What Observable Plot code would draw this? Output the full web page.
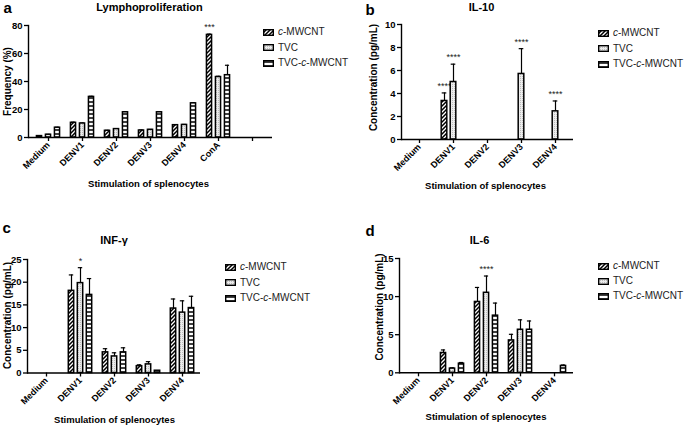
<!DOCTYPE html>
<html><head><meta charset="utf-8">
<script src="https://cdn.jsdelivr.net/npm/d3@7"></script>
<script src="https://cdn.jsdelivr.net/npm/@observablehq/plot@0.6"></script>
<style>
html,body{margin:0;padding:0;background:#fff;}
#root{position:relative;width:685px;height:425px;overflow:hidden;font-family:"Liberation Sans",Arial,sans-serif;}
.panel{position:absolute;}
.legend{position:absolute;font-size:10px;color:#222;font-family:"Liberation Sans",Arial,sans-serif;}
.row{position:absolute;left:0;white-space:nowrap;height:12px;line-height:12px;}
.row svg{position:absolute;left:0;top:2.5px;overflow:visible;}
.row span{position:absolute;left:15px;top:0;}
</style></head><body>
<svg width="0" height="0" style="position:absolute">
<defs>
<pattern id="hatch" patternUnits="userSpaceOnUse" width="4" height="4">
 <rect width="4" height="4" fill="white"/>
 <path d="M-1,1 l2,-2 M0,4 l4,-4 M3,5 l2,-2" stroke="black" stroke-width="1.5"/>
</pattern>
<pattern id="dots" patternUnits="userSpaceOnUse" width="2" height="2">
 <rect width="2" height="2" fill="#ececec"/>
 <rect x="0" y="0" width="1" height="1" fill="#bdbdbd"/>
</pattern>
<pattern id="hlines" patternUnits="userSpaceOnUse" width="4" height="4">
 <rect width="4" height="4" fill="white"/>
 <line x1="0" y1="2" x2="4" y2="2" stroke="black" stroke-width="1.5"/>
</pattern>
</defs></svg>
<div id="root"></div>
<script>
// ---------- data ----------
const seriesNames = ["c-MWCNT", "TVC", "TVC-c-MWCNT"];

// a: Lymphoproliferation (Frequency %)
const catsA = ["Medium", "DENV1", "DENV2", "DENV3", "DENV4", "ConA", ""];
const lymphoC   = [1.0, 10.5, 4.8, 5.0, 8.8, 73.3];
const lymphoT   = [2.0, 10.0, 6.0, 5.5, 9.0, 43.2];
const lymphoTC  = [7.0, 29.0, 18.0, 18.0, 24.4, 44.5];
const lymphoCe  = [0.2, 0.4, 0.3, 0.3, 0.3, 0.5];
const lymphoTe  = [0.2, 0.3, 0.3, 0.2, 0.3, 0.5];
const lymphoTCe = [0.3, 0.4, 0.4, 0.4, 0.4, 7.1];
const ticksA = [0, 20, 40, 60, 80];
const sigA = [{cat: "ConA", s: 0, label: "***"}];

// b: IL-10 (pg/mL)
const catsB = ["Medium", "DENV1", "DENV2", "DENV3", "DENV4"];
const il10C   = [0, 3.35, 0, 0, 0];
const il10T   = [0, 5.0, 0, 5.7, 2.45];
const il10TC  = [0, 0, 0, 0, 0];
const il10Ce  = [0, 0.7, 0, 0, 0];
const il10Te  = [0, 1.55, 0, 2.2, 0.9];
const il10TCe = [0, 0, 0, 0, 0];
const ticksB = [0, 2, 4, 6, 8, 10];
const sigB = [{cat: "DENV1", s: 0, label: "****"}, {cat: "DENV1", s: 1, label: "****"},
              {cat: "DENV3", s: 1, label: "****"}, {cat: "DENV4", s: 1, label: "****"}];

// c: INF-γ (pg/mL)
const catsC = ["Medium", "DENV1", "DENV2", "DENV3", "DENV4"];
const infC   = [0, 18.1, 4.55, 1.5, 14.2];
const infT   = [0, 19.8, 3.65, 1.9, 13.3];
const infTC  = [0, 17.2, 4.55, 0.5, 14.3];
const infCe  = [0, 3.5, 0.8, 0.3, 2.1];
const infTe  = [0, 3.4, 0.8, 0.6, 2.6];
const infTCe = [0, 3.6, 1.0, 0, 2.6];
const ticksC = [0, 5, 10, 15, 20, 25];
const sigC = [{cat: "DENV1", s: 1, label: "*"}];

// d: IL-6 (pg/mL)
const catsD = ["Medium", "DENV1", "DENV2", "DENV3", "DENV4"];
const il6C   = [0, 2.6, 9.3, 4.25, 0];
const il6T   = [0, 0.55, 10.5, 5.65, 0];
const il6TC  = [0, 1.2, 7.5, 5.65, 0.9];
const il6Ce  = [0, 0.4, 1.9, 0.8, 0];
const il6Te  = [0, 0.1, 2.2, 1.3, 0];
const il6TCe = [0, 0.15, 1.65, 1.15, 0.12];
const ticksD = [0, 5, 10, 15];
const sigD = [{cat: "DENV2", s: 1, label: "****"}];

// ---------- styling ----------
const fills = ["url(#hatch)", "url(#dots)", "url(#hlines)"];
const offsets = [-9, 0, 9];
const barW = 6;
const capW = 5;
const root = document.getElementById("root");

function makePanel(cfg) {
  const [fl, ft, fr, fb] = cfg.frame;
  const bw = (fr - fl) / cfg.cats.length;
  const fcx = (fl + fr) / 2, fcy = (ft + fb) / 2;
  const marks = [];
  cfg.values.forEach((vals, s) => {
    const rows = vals.map((v, i) => ({cat: cfg.cats[i], v, e: cfg.errors[s][i]}));
    const off = offsets[s];
    marks.push(Plot.ruleX(rows, {x: "cat", y1: "v", y2: d => d.v + d.e, dx: off, stroke: "black", strokeWidth: 1.2,
      filter: d => d.v > 0 && d.e > 0}));
    marks.push(Plot.tickY(rows, {x: "cat", y: d => d.v + d.e, insetLeft: bw / 2 + off - capW / 2, insetRight: bw / 2 - off - capW / 2,
      stroke: "black", strokeWidth: 1.2, filter: d => d.v > 0 && d.e > 0}));
    marks.push(Plot.barY(rows, {x: "cat", y: "v", fill: fills[s], stroke: "black", strokeWidth: 1.5,
      insetLeft: bw / 2 + off - barW / 2, insetRight: bw / 2 - off - barW / 2, filter: d => d.v > 0}));
    const sig = cfg.sig.filter(d => d.s === s).map(d => {
      const i = cfg.cats.indexOf(d.cat);
      return {cat: d.cat, top: vals[i] + cfg.errors[s][i], label: d.label};
    });
    marks.push(Plot.text(sig, {x: "cat", y: "top", text: "label", dx: off, dy: -7, fontSize: 9, lineAnchor: "middle", fill: "#222"}));
  });
  marks.push(
    Plot.ruleY([0], {stroke: "black", strokeWidth: 1.4}),
    Plot.frame({anchor: "left", stroke: "black", strokeWidth: 1.4}),
    Plot.axisY({ticks: cfg.ticks, tickSize: 4, tickPadding: 2, strokeWidth: 1.3, fontWeight: "bold", fontSize: 9.5, label: null}),
    Plot.axisX({tickRotate: -45, tickSize: 4, tickPadding: 2, strokeWidth: 1.3, fontWeight: "bold", fontSize: 9, label: null}),
    Plot.text([cfg.letter], {frameAnchor: "top-left", dx: cfg.letterPos[0] - fl, dy: cfg.letterPos[1] - ft,
      textAnchor: "start", lineAnchor: "bottom", fontSize: 15, fontWeight: "bold"}),
    Plot.text([cfg.title], {frameAnchor: "top", dx: cfg.titlePos[0] - fcx, dy: cfg.titlePos[1] - ft,
      textAnchor: "middle", lineAnchor: "bottom", fontSize: 11, fontWeight: "bold"}),
    Plot.text([cfg.xlabel], {frameAnchor: "bottom", dx: cfg.xlabelPos[0] - fcx, dy: cfg.xlabelPos[1] - fb,
      textAnchor: "middle", lineAnchor: "bottom", fontSize: 9.5, fontWeight: "bold"}),
    Plot.text([cfg.ylabel], {frameAnchor: "left", dx: cfg.ylabelPos[0] - fl, dy: cfg.ylabelPos[1] - fcy,
      rotate: -90, textAnchor: "middle", lineAnchor: "bottom", fontSize: 10, fontWeight: "bold"})
  );
  const chart = Plot.plot({
    width: cfg.width, height: cfg.height,
    marginLeft: fl - cfg.left, marginTop: ft - cfg.top,
    marginRight: cfg.left + cfg.width - fr, marginBottom: cfg.top + cfg.height - fb,
    x: {type: "band", domain: cfg.cats, padding: 0},
    y: {domain: [0, cfg.ticks[cfg.ticks.length - 1]]},
    style: {background: "transparent", color: "#000", fontFamily: "Liberation Sans, Arial, sans-serif", overflow: "visible"},
    marks
  });
  const wrap = document.createElement("div");
  wrap.className = "panel";
  wrap.style.left = cfg.left + "px";
  wrap.style.top = cfg.top + "px";
  wrap.appendChild(chart);
  root.appendChild(wrap);

  // legend
  const lg = document.createElement("div");
  lg.className = "legend";
  lg.style.left = cfg.legend[0] + "px";
  lg.style.top = (cfg.legend[1] - 6) + "px";
  seriesNames.forEach((name, s) => {
    const row = document.createElement("div");
    row.className = "row";
    row.style.top = (s * cfg.legend[2]) + "px";
    row.innerHTML = `<svg width="11" height="7"><rect x="0.7" y="0.7" width="9.6" height="5.6" fill="${fills[s]}" stroke="black" stroke-width="1.4"/></svg>` +
      `<span>${name.replace(/(^|-)c-/, "$1<i>c</i>-")}</span>`;
    lg.appendChild(row);
  });
  root.appendChild(lg);
}

makePanel({cats: catsA, values: [lymphoC, lymphoT, lymphoTC], errors: [lymphoCe, lymphoTe, lymphoTCe], sig: sigA, ticks: ticksA,
  left: 0, top: 0, width: 340, height: 205, frame: [28, 25, 272, 137],
  letter: "a", letterPos: [3, 12], title: "Lymphoproliferation", titlePos: [149, 10.5],
  xlabel: "Stimulation of splenocytes", xlabelPos: [148, 186.5], ylabel: "Frequency (%)", ylabelPos: [10.5, 81],
  legend: [263, 32, 15.5]});

makePanel({cats: catsB, values: [il10C, il10T, il10TC], errors: [il10Ce, il10Te, il10TCe], sig: sigB, ticks: ticksB,
  left: 340, top: 0, width: 345, height: 205, frame: [401, 24, 573, 139],
  letter: "b", letterPos: [365, 14], title: "IL-10", titlePos: [481, 10.5],
  xlabel: "Stimulation of splenocytes", xlabelPos: [485, 188.5], ylabel: "Concentration (pg/mL)", ylabelPos: [376, 77],
  legend: [598, 33, 15.5]});

makePanel({cats: catsC, values: [infC, infT, infTC], errors: [infCe, infTe, infTCe], sig: sigC, ticks: ticksC,
  left: 0, top: 210, width: 340, height: 215, frame: [27, 259, 200, 372.5],
  letter: "c", letterPos: [2, 232], title: "INF-γ", titlePos: [113.5, 243],
  xlabel: "Stimulation of splenocytes", xlabelPos: [114, 422], ylabel: "Concentration (pg/mL)", ylabelPos: [10, 315],
  legend: [225, 267, 15.5]});

makePanel({cats: catsD, values: [il6C, il6T, il6TC], errors: [il6Ce, il6Te, il6TCe], sig: sigD, ticks: ticksD,
  left: 340, top: 210, width: 345, height: 215, frame: [399, 258, 573, 372.3],
  letter: "d", letterPos: [365, 235], title: "IL-6", titlePos: [479, 243],
  xlabel: "Stimulation of splenocytes", xlabelPos: [485.5, 419], ylabel: "Concentration (pg/mL)", ylabelPos: [382, 306.5],
  legend: [598, 266, 15]});
</script>
</body></html>
